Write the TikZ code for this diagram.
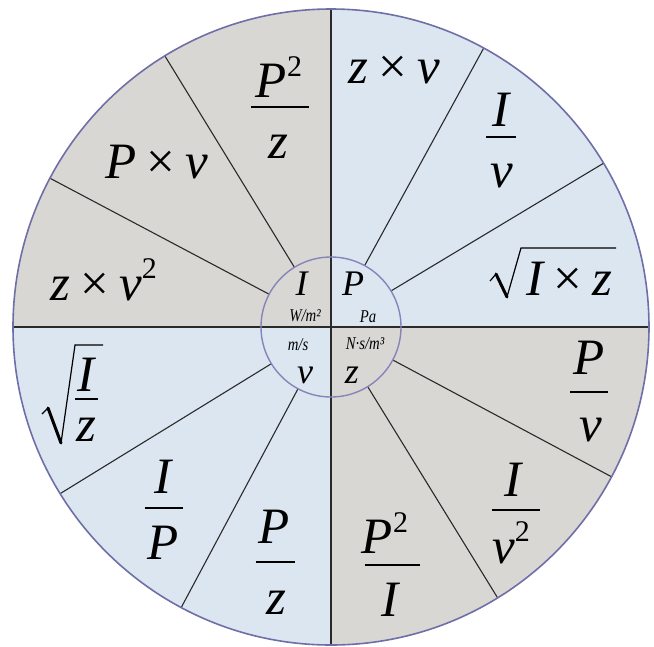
\documentclass[tikz,border=0pt]{standalone}
\usepackage{fontspec}
\setmainfont{Liberation Serif}
\usepackage{graphicx}
\usetikzlibrary{calc}
\definecolor{qgray}{HTML}{D9D7D3}
\definecolor{qblue}{HTML}{DCE6F1}
\definecolor{rim}{HTML}{6F6FA8}
\definecolor{inrim}{HTML}{8585BA}
\definecolor{ink}{HTML}{2A2A2A}
\newcommand{\sq}[1]{\raisebox{0.42em}{\fontsize{30}{30}\selectfont\upshape #1}}
\newcommand{\xx}{\hspace{0.2em}{\upshape ×}\hspace{0.2em}}
\newcommand{\unitbox}[1]{\scalebox{0.82}[1]{#1}}
\begin{document}
\begin{tikzpicture}[x=1pt,y=-1pt,
  big/.style={font=\fontsize{51}{51}\selectfont\itshape, inner sep=0pt, text=black},
  inl/.style={font=\fontsize{36}{36}\selectfont\itshape, inner sep=0pt, text=black},
  unit/.style={font=\fontsize{18}{18}\selectfont\itshape, inner sep=0pt, text=black},
  spoke/.style={draw=ink, line width=1.1pt},
  fbar/.style={draw=black, line width=2pt},
  rad/.style={draw=black, line width=1.2pt, line join=miter},
  radthick/.style={draw=black, line width=3pt, line cap=round}
]
\useasboundingbox (0,0) rectangle (654,646);
\fill[white] (0,0) rectangle (654,646);
\coordinate (C) at (331,327);
% quadrants
\fill[qgray] (C) -- ++(0:318) arc (0:90:318) -- cycle;
\fill[qgray] (C) -- ++(180:318) arc (180:270:318) -- cycle;
\fill[qblue] (C) -- ++(90:318) arc (90:180:318) -- cycle;
\fill[qblue] (C) -- ++(270:318) arc (270:360:318) -- cycle;
% spokes
\foreach \a in {31,61.3,121.5,152.1,211.6,241.9,301.6,331.9}{
  \draw[spoke] ($(C)+(-\a:70)$) -- ($(C)+(-\a:318)$);
}
% axes
\coordinate (vtop) at (331,8);
\coordinate (vbot) at (331,646);
\coordinate (hl) at (13,327);
\coordinate (hr) at (648,327);
\draw[spoke] (vtop) -- (vbot);
\draw[spoke] (hl) -- (hr);
% circles
\draw[draw=rim, line width=1.6pt] (C) circle (318);
\draw[draw=inrim, line width=1.4pt] (C) circle (70);
% inner labels
\node[inl] (iI) at (301.7,284) {I};
\node[inl] (iP) at (353,284) {P};
\node[inl] (iv) at (305,375) {v};
\node[inl] (iz) at (352,375) {z};
\node[unit] (uI) at (305,316) {\unitbox{W/m²}};
\node[unit] (uP) at (368,317) {\unitbox{Pa}};
\node[unit] (uv) at (298,345) {\unitbox{m/s}};
\node[unit] (uz) at (365,344) {\unitbox{N·s/m³}};
% upper-left
\node[big] (a1n) at (279,77) {P\sq{2}};
\draw[fbar] (251,107) -- (309,107);
\node[big] (a1d) at (278,147) {z};
\node[big, anchor=base] (a2) at (157,178) {P\xx v};
\node[big, anchor=base] (a3) at (103.5,300) {z\xx v\sq{2}};
% upper-right
\node[big, anchor=base] (b1) at (394,83) {z\xx v};
\node[big] (b2n) at (500.6,110) {I};
\draw[fbar] (486,137) -- (516,137);
\node[big] (b2d) at (501.5,176) {v};
\draw[rad] (490,281) -- (496,274);
\draw[radthick] (496,274) -- (507,297);
\draw[rad] (507,297) -- (521,248) -- (616,248);
\node[big, anchor=base] (b3) at (569,295) {I\xx z};
% lower-left
\draw[rad] (42,414) -- (48,408);
\draw[radthick] (48,408) -- (61,443);
\draw[rad] (61,443) -- (75,345) -- (103,345);
\node[big] (c1n) at (86,375) {I};
\draw[fbar] (75,399) -- (98,399);
\node[big] (c1d) at (86,430) {z};
\node[big] (c2n) at (163,477) {I};
\draw[fbar] (144.5,508) -- (183,508);
\node[big] (c2d) at (163,543) {P};
\node[big] (c3n) at (274,527) {P};
\draw[fbar] (255.5,562) -- (295,562);
\node[big] (c3d) at (276.5,603) {z};
% lower-right
\node[big] (d1n) at (385,533) {P\sq{2}};
\draw[fbar] (364.5,565) -- (420,565);
\node[big] (d1d) at (389.6,600) {I};
\node[big] (d2n) at (513,480) {I};
\draw[fbar] (492,510) -- (540,510);
\node[big] (d2d) at (511,543) {v\sq{2}};
\node[big] (d3n) at (588.6,358) {P};
\draw[fbar] (570,392) -- (607.5,392);
\node[big] (d3d) at (590.7,430) {v};
\end{tikzpicture}
\end{document}
